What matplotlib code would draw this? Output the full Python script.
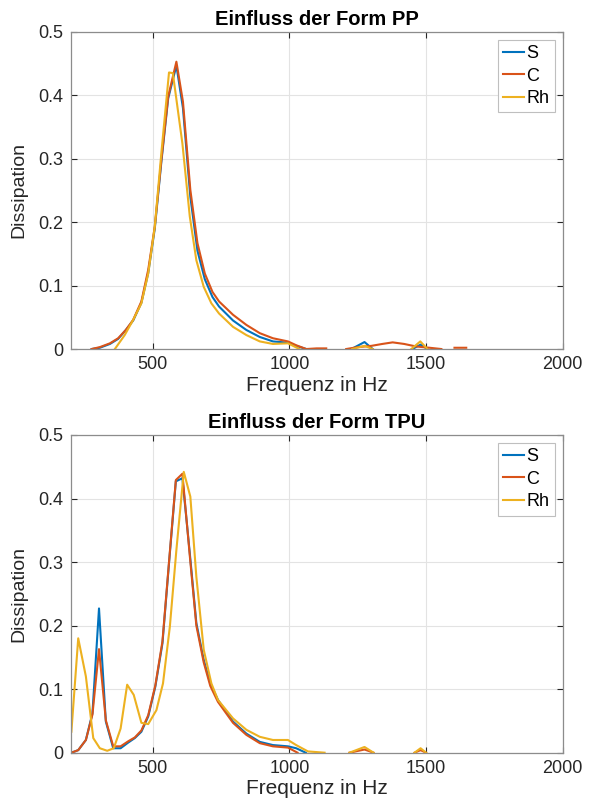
import numpy as np
import matplotlib
matplotlib.use("Agg")
import matplotlib.pyplot as plt

plt.rcParams["font.family"] = ["Liberation Sans", "DejaVu Sans"]

nan = np.nan
blue = "#0072BD"
red = "#D95319"
yellow = "#EDB120"

# ---- PP (top) ----
pp_s_f = [277, 307, 344, 374, 402, 429, 459, 484, 508, 532, 557, 587, 611, 638, 664, 691, 719, 743,
          794, 843, 892, 940, 995, 1025, 1062, nan, 1227, 1275, 1305, nan, 1450, 1480, 1505]
pp_s_v = [0.0, 0.002, 0.008, 0.016, 0.030, 0.045, 0.073, 0.120, 0.190, 0.295, 0.395, 0.447, 0.380,
          0.240, 0.155, 0.110, 0.082, 0.067, 0.045, 0.030, 0.019, 0.012, 0.010, 0.005, 0.0, nan,
          0.0, 0.011, 0.0, nan, 0.0, 0.007, 0.0]

pp_c_f = [277, 307, 344, 374, 402, 429, 459, 484, 508, 532, 557, 587, 611, 638, 664, 691, 719, 743,
          794, 843, 892, 940, 995, 1025, 1062, 1100, 1135, nan, 1208, 1250, 1300, 1340, 1378, 1420,
          1464, 1513, 1556, nan, 1604, 1647]
pp_c_v = [0.0, 0.003, 0.009, 0.017, 0.030, 0.046, 0.075, 0.125, 0.193, 0.298, 0.398, 0.453, 0.390,
          0.251, 0.167, 0.119, 0.090, 0.075, 0.054, 0.038, 0.025, 0.017, 0.012, 0.006, 0.0, 0.001,
          0.001, nan, 0.0, 0.003, 0.005, 0.008, 0.0105, 0.008, 0.004, 0.002, 0.0, nan, 0.002, 0.002]

pp_rh_f = [362, 398, 429, 459, 484, 508, 532, 560, 574, 609, 636, 660, 687, 715, 743, 794, 843,
           892, 940, 995, 1037, nan, 1230, 1275, 1305, nan, 1446, 1479, 1505]
pp_rh_v = [0.0, 0.022, 0.046, 0.072, 0.119, 0.193, 0.309, 0.436, 0.435, 0.324, 0.209, 0.140, 0.098,
           0.072, 0.056, 0.035, 0.022, 0.012, 0.008, 0.009, 0.0, nan, 0.0, 0.005, 0.0, nan,
           0.0, 0.012, 0.0]

# ---- TPU (bottom) ----
tpu_s_f = [203, 228, 256, 280, 304, 329, 356, 383, 411, 435, 459, 484, 510, 536, 560, 585, 609,
           636, 660, 687, 711, 739, 794, 843, 892, 940, 995, 1025, 1060]
tpu_s_v = [0.0, 0.004, 0.020, 0.062, 0.227, 0.049, 0.007, 0.007, 0.016, 0.023, 0.033, 0.057, 0.104,
           0.172, 0.298, 0.427, 0.432, 0.314, 0.204, 0.146, 0.109, 0.083, 0.049, 0.030, 0.017,
           0.012, 0.010, 0.007, 0.0]

tpu_c_f = [203, 228, 256, 280, 304, 329, 356, 383, 411, 435, 459, 484, 510, 536, 560, 585, 609,
           636, 660, 687, 711, 739, 794, 843, 892, 940, 995, 1030, nan, 1220, 1275, 1308, nan,
           1458, 1480, 1500]
tpu_c_v = [0.0, 0.004, 0.020, 0.060, 0.163, 0.051, 0.010, 0.010, 0.018, 0.024, 0.035, 0.059, 0.106,
           0.175, 0.300, 0.429, 0.439, 0.310, 0.200, 0.142, 0.105, 0.080, 0.047, 0.028, 0.015,
           0.010, 0.008, 0.0, nan, 0.0, 0.005, 0.0, nan, 0.0, 0.004, 0.0]

tpu_rh_f = [203, 228, 256, 283, 307, 334, 358, 383, 407, 431, 459, 484, 514, 538, 563, 587, 614,
            638, 660, 687, 715, 739, 794, 843, 892, 940, 995, 1025, 1068, 1129, nan, 1220, 1275,
            1308, nan, 1458, 1480, 1500]
tpu_rh_v = [0.033, 0.180, 0.120, 0.023, 0.007, 0.003, 0.007, 0.038, 0.107, 0.091, 0.047, 0.045,
            0.067, 0.109, 0.198, 0.319, 0.442, 0.403, 0.277, 0.162, 0.109, 0.083, 0.054, 0.036,
            0.025, 0.020, 0.020, 0.012, 0.002, 0.0, nan, 0.0, 0.009, 0.0, nan, 0.0, 0.007, 0.0]

panels = [
    ("Einfluss der Form PP", [(pp_s_f, pp_s_v), (pp_c_f, pp_c_v), (pp_rh_f, pp_rh_v)]),
    ("Einfluss der Form TPU", [(tpu_s_f, tpu_s_v), (tpu_c_f, tpu_c_v), (tpu_rh_f, tpu_rh_v)]),
]
labels = ["S", "C", "Rh"]
colors = [blue, red, yellow]

fig = plt.figure(figsize=(5.93, 8.07), dpi=100)
ax_top = fig.add_axes([0.119, 0.5675, 0.830, 0.393])
ax_bot = fig.add_axes([0.119, 0.0673, 0.830, 0.3937])

for ax, (title, series) in zip([ax_top, ax_bot], panels):
    for (f, v), lab, col in zip(series, labels, colors):
        ax.plot(f, v, color=col, lw=1.5, label=lab)
    ax.set_xlim(200, 2000)
    ax.set_ylim(0, 0.5)
    ax.set_xticks([500, 1000, 1500, 2000])
    ax.set_yticks([0, 0.1, 0.2, 0.3, 0.4, 0.5])
    ax.set_yticklabels(["0", "0.1", "0.2", "0.3", "0.4", "0.5"])
    ax.grid(True, color="#e3e3e3", lw=0.8)
    ax.set_axisbelow(True)
    ax.tick_params(direction="in", top=True, right=True, labelsize=13,
                   colors="#262626", length=4, pad=5)
    for sp in ax.spines.values():
        sp.set_color("#8c8c8c")
        sp.set_linewidth(0.9)
    ax.set_xlabel("Frequenz in Hz", fontsize=15, color="#262626", labelpad=2)
    ax.set_ylabel("Dissipation", fontsize=14, color="#262626")
    ax.yaxis.set_label_coords(-0.087, 0.5)
    ax.set_title(title, fontsize=14.5, fontweight="bold", pad=5)
    leg = ax.legend(loc="upper right", fontsize=13, handlelength=1.15, handletextpad=0.15,
                    borderpad=0.3, labelspacing=0.3, borderaxespad=0, fancybox=False,
                    framealpha=1, bbox_to_anchor=(0.984, 0.975))
    leg.get_frame().set_edgecolor("#bfbfbf")
    leg.get_frame().set_linewidth(0.8)

fig.savefig("out.png", dpi=100)
